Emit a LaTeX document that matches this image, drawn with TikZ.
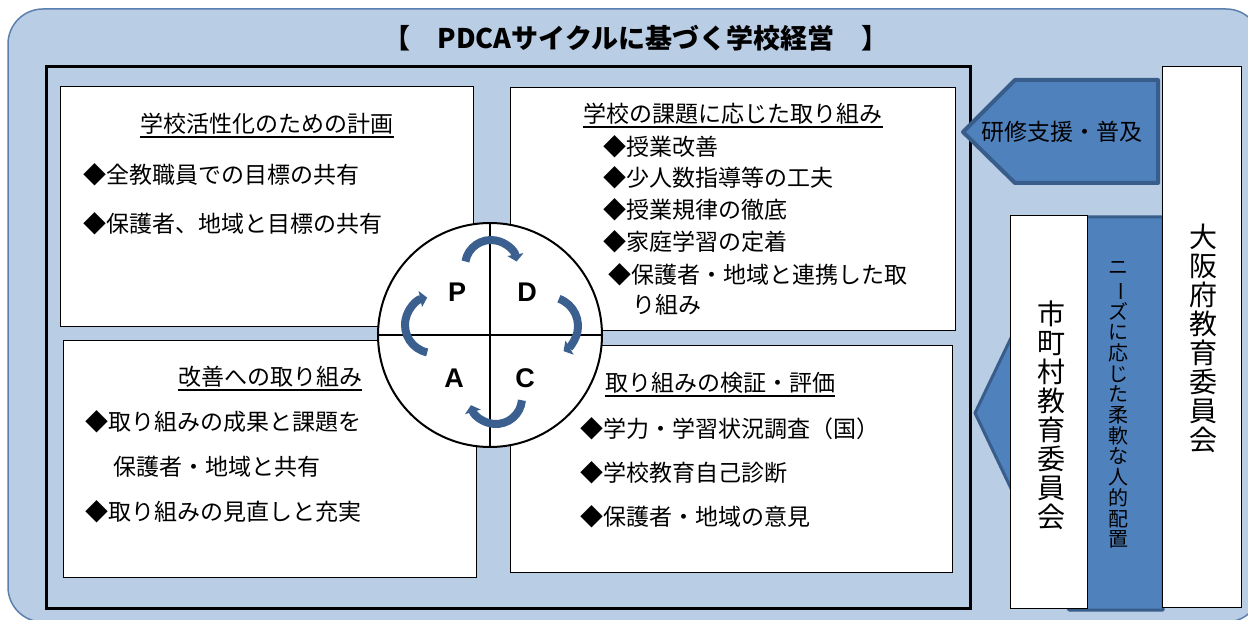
\documentclass[tikz,border=0pt]{standalone}
\usepackage{fontspec}
\setmainfont{Noto Sans CJK JP}
\newfontfamily\latfont{Liberation Sans}
\usetikzlibrary{arrows.meta}
\definecolor{bgblue}{HTML}{B9CDE5}
\definecolor{edgeblue}{HTML}{5B7FAE}
\definecolor{arrblue}{HTML}{4F81BD}
\definecolor{arrdark}{HTML}{385D8A}
\definecolor{cycblue}{HTML}{3B6090}
\tikzset{
 panel/.style={draw=black, line width=1.3pt, fill=white, anchor=north west, inner sep=0pt},
 txt/.style={font=\fontsize{23}{25}\selectfont, inner sep=0pt, anchor=west},
 ttl/.style={font=\fontsize{23}{25}\selectfont, inner sep=0pt},
 uline/.style={line width=1.5pt},
 cyc/.style={draw=cycblue, line width=8pt, -{Triangle[length=7pt,width=16pt]}},
 letter/.style={font=\latfont\bfseries\fontsize{27}{30}\selectfont, inner sep=0pt},
 bigarrow/.style={fill=arrblue, draw=arrdark, line join=round},
 vtxt/.style={align=center, inner sep=0pt},
}
\begin{document}
\begin{tikzpicture}[x=1pt,y=-1pt]
\useasboundingbox (0,0) rectangle (1248,620);
\fill[white] (0,0) rectangle (1248,620);
% outer rounded background
\draw[fill=bgblue, draw=edgeblue, line width=1.5pt, rounded corners=35pt] (8,9) rectangle (1261,622);
% title
\node[font=\bfseries\fontsize{27}{30}\selectfont, inner sep=0pt] (title) at (636,38) {【　PDCAサイクルに基づく学校経営　】};
% inner frame
\draw[line width=3pt] (46,67) rectangle (970,608);

% panels
\node[panel, minimum width=413pt, minimum height=240pt] (b1) at (60,86) {};
\node[panel, minimum width=445pt, minimum height=243pt] (b2) at (510,87) {};
\node[panel, minimum width=413pt, minimum height=237pt] (b3) at (63,340) {};
\node[panel, minimum width=442pt, minimum height=227pt] (b4) at (510,345) {};

% panel 1
\node[ttl] (t1) at (267,124) {学校活性化のための計画};
\draw[uline] ([yshift=-2pt]t1.south west) -- ([yshift=-2pt]t1.south east);
\node[txt] (i11) at (83,175) {◆全教職員での目標の共有};
\node[txt] (i12) at (83,223.5) {◆保護者、地域と目標の共有};

% panel 2
\node[ttl] (t2) at (733,114) {学校の課題に応じた取り組み};
\draw[uline] ([yshift=-2pt]t2.south west) -- ([yshift=-2pt]t2.south east);
\node[txt] (i21) at (603,147) {◆授業改善};
\node[txt] (i22) at (603,178) {◆少人数指導等の工夫};
\node[txt] (i23) at (603,210) {◆授業規律の徹底};
\node[txt] (i24) at (603,242) {◆家庭学習の定着};
\node[txt] (i25) at (608,275) {◆保護者・地域と連携した取};
\node[txt] (i26) at (632,305) {り組み};

% panel 3
\node[ttl] (t3) at (270,377) {改善への取り組み};
\draw[uline] ([yshift=-2pt]t3.south west) -- ([yshift=-2pt]t3.south east);
\node[txt] (i31) at (85,422) {◆取り組みの成果と課題を};
\node[txt] (i32) at (113,467) {保護者・地域と共有};
\node[txt] (i33) at (85,512) {◆取り組みの見直しと充実};

% panel 4
\node[ttl] (t4) at (720,383) {取り組みの検証・評価};
\draw[uline] ([yshift=-2pt]t4.south west) -- ([yshift=-2pt]t4.south east);
\node[txt] (i41) at (580,429) {◆学力・学習状況調査（国）};
\node[txt] (i42) at (580,473) {◆学校教育自己診断};
\node[txt] (i43) at (580,517) {◆保護者・地域の意見};

% PDCA circle
\node[circle, draw=black, line width=2pt, fill=white, minimum size=224pt, inner sep=0pt] (pdca) at (490,335) {};
\draw[line width=1.8pt] (pdca.north) -- (pdca.south);
\draw[line width=1.8pt] (pdca.west) -- (pdca.east);
\node[letter] (lp) at (457,292) {P};
\node[letter] (ld) at (527,292) {D};
\node[letter] (la) at (454,378) {A};
\node[letter] (lc) at (525,378) {C};
\draw[cyc, shift={(491,266)}] (190:26) arc[start angle=190, end angle=350, radius=26];
\draw[cyc, shift={(549,326)}] (-70:29) arc[start angle=-70, end angle=60, radius=29];
\draw[cyc, shift={(496,398)}] (5:26) arc[start angle=5, end angle=164, radius=26];
\draw[cyc, shift={(433,325)}] (102:28) arc[start angle=102, end angle=258, radius=28];

% support arrow
\draw[bigarrow, line width=4pt] (963,132) -- (1015,80) -- (1158,80) -- (1158,183) -- (1015,183) -- cycle;
\node[font=\fontsize{23}{25}\selectfont, inner sep=0pt] (sup1) at (1062,132) {研修支援・普及};

% staffing arrow
\draw[bigarrow, line width=3pt] (975,413) -- (1069,217) -- (1163,217) -- (1163,610) -- (1069,610) -- cycle;
\node[vtxt, font=\fontsize{20}{20.7}\selectfont] (need) at (1118,405) {ニ\\\rotatebox[origin=c]{-90}{ー}\\ズ\\に\\応\\じ\\た\\柔\\軟\\な\\人\\的\\配\\置};

% prefecture board
\node[panel, line width=1pt, minimum width=79pt, minimum height=541pt] (pref) at (1162,66) {};
\node[vtxt, font=\fontsize{28}{29}\selectfont] (preft) at (1203,338) {大\\阪\\府\\教\\育\\委\\員\\会};

% municipal board
\node[panel, line width=1pt, minimum width=77pt, minimum height=393pt] (muni) at (1010,215) {};
\node[vtxt, font=\fontsize{28}{29}\selectfont] (munit) at (1051,415) {市\\町\\村\\教\\育\\委\\員\\会};
\end{tikzpicture}
\end{document}
